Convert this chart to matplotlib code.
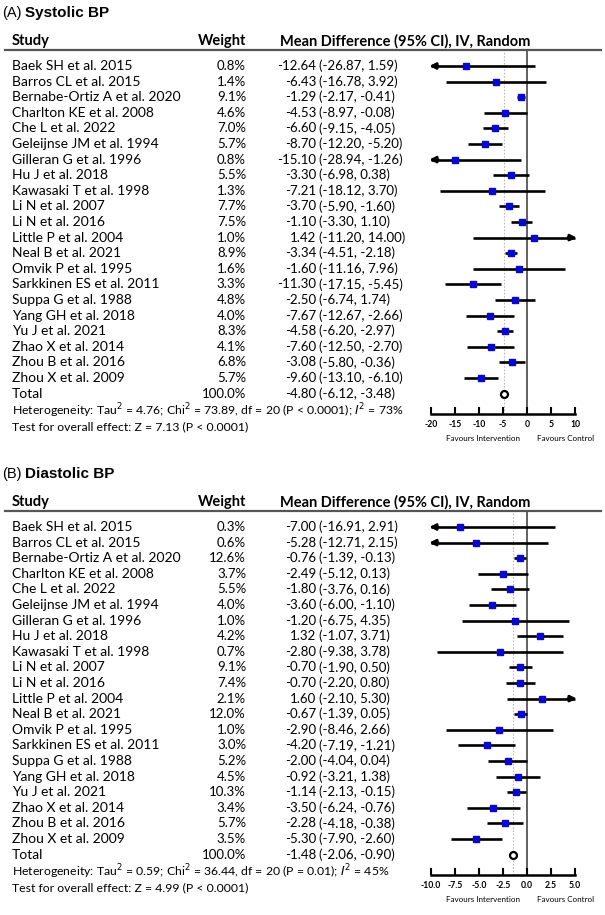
import matplotlib.pyplot as plt
import matplotlib.transforms as mtransforms

plt.rcParams["font.family"] = ["Lato", "DejaVu Sans"]

studies = [
    "Baek SH et al. 2015", "Barros CL et al. 2015", "Bernabe-Ortiz A et al. 2020",
    "Charlton KE et al. 2008", "Che L et al. 2022", "Geleijnse JM et al. 1994",
    "Gilleran G et al. 1996", "Hu J et al. 2018", "Kawasaki T et al. 1998",
    "Li N et al. 2007", "Li N et al. 2016", "Little P et al. 2004",
    "Neal B et al. 2021", "Omvik P et al. 1995", "Sarkkinen ES et al. 2011",
    "Suppa G et al. 1988", "Yang GH et al. 2018", "Yu J et al. 2021",
    "Zhao X et al. 2014", "Zhou B et al. 2016", "Zhou X et al. 2009",
]

# systolic BP
sbp_weight = [0.8, 1.4, 9.1, 4.6, 7.0, 5.7, 0.8, 5.5, 1.3, 7.7, 7.5, 1.0, 8.9, 1.6, 3.3, 4.8, 4.0, 8.3, 4.1, 6.8, 5.7]
sbp_md = [-12.64, -6.43, -1.29, -4.53, -6.60, -8.70, -15.10, -3.30, -7.21, -3.70, -1.10, 1.42,
          -3.34, -1.60, -11.30, -2.50, -7.67, -4.58, -7.60, -3.08, -9.60]
sbp_lo = [-26.87, -16.78, -2.17, -8.97, -9.15, -12.20, -28.94, -6.98, -18.12, -5.90, -3.30, -11.20,
          -4.51, -11.16, -17.15, -6.74, -12.67, -6.20, -12.50, -5.80, -13.10]
sbp_hi = [1.59, 3.92, -0.41, -0.08, -4.05, -5.20, -1.26, 0.38, 3.70, -1.60, 1.10, 14.00,
          -2.18, 7.96, -5.45, 1.74, -2.66, -2.97, -2.70, -0.36, -6.10]
sbp_total = (-4.80, -6.12, -3.48)
sbp_het = r"Heterogeneity: Tau$^2$ = 4.76; Chi$^2$ = 73.89, df = 20 (P < 0.0001); $I^2$ = 73%"
sbp_test = "Test for overall effect: Z = 7.13 (P < 0.0001)"
sbp_ticks = [-20, -15, -10, -5, 0, 5, 10]
sbp_ticklabels = ["-20", "-15", "-10", "-5", "0", "5", "10"]

# diastolic BP
dbp_weight = [0.3, 0.6, 12.6, 3.7, 5.5, 4.0, 1.0, 4.2, 0.7, 9.1, 7.4, 2.1, 12.0, 1.0, 3.0, 5.2, 4.5, 10.3, 3.4, 5.7, 3.5]
dbp_md = [-7.00, -5.28, -0.76, -2.49, -1.80, -3.60, -1.20, 1.32, -2.80, -0.70, -0.70, 1.60,
          -0.67, -2.90, -4.20, -2.00, -0.92, -1.14, -3.50, -2.28, -5.30]
dbp_lo = [-16.91, -12.71, -1.39, -5.12, -3.76, -6.00, -6.75, -1.07, -9.38, -1.90, -2.20, -2.10,
          -1.39, -8.46, -7.19, -4.04, -3.21, -2.13, -6.24, -4.18, -7.90]
dbp_hi = [2.91, 2.15, -0.13, 0.13, 0.16, -1.10, 4.35, 3.71, 3.78, 0.50, 0.80, 5.30,
          0.05, 2.66, -1.21, 0.04, 1.38, -0.15, -0.76, -0.38, -2.60]
dbp_total = (-1.48, -2.06, -0.90)
dbp_het = r"Heterogeneity: Tau$^2$ = 0.59; Chi$^2$ = 36.44, df = 20 (P = 0.01); $I^2$ = 45%"
dbp_test = "Test for overall effect: Z = 4.99 (P < 0.0001)"
dbp_ticks = [-10.0, -7.5, -5.0, -2.5, 0.0, 2.5, 5.0]
dbp_ticklabels = ["-10.0", "-7.5", "-5.0", "-2.5", "0.0", "2.5", "5.0"]

W, H = 605, 915
fig = plt.figure(figsize=(W / 100, H / 100), dpi=100)

BLUE = "#0808D0"
ROW0, ROWSTEP = 66, 15.6


def fx(px):
    return px / W


def fy(px):
    return 1 - px / H


def draw_panel(off, letter, title, weight, md, lo, hi, total, het, test, ticks, ticklabels):
    n = len(md)
    xmin, xmax = ticks[0], ticks[-1]
    ax_top, ax_bot = 50 + off, 414 + off
    ax = fig.add_axes([fx(431), fy(ax_bot), fx(575) - fx(431), (ax_bot - ax_top) / H])
    ax.set_xlim(xmin, xmax)
    ax.set_ylim((ax_bot - off - ROW0) / ROWSTEP, (ax_top - off - ROW0) / ROWSTEP)
    for s in ["top", "left", "right"]:
        ax.spines[s].set_visible(False)
    ax.spines["bottom"].set_linewidth(1.8)
    ax.set_yticks([])
    ax.set_xticks(ticks)
    ax.set_xticklabels(ticklabels, fontsize=6.2, fontweight="bold")
    ax.tick_params(axis="x", direction="in", length=5, width=1.5, pad=4)
    ax.patch.set_visible(False)

    ax.axvline(0, color="#555555", lw=1.3, zorder=1)
    ax.axvline(total[0], color="#bbbbbb", lw=0.8, ls=(0, (1.5, 1.5)), zorder=1)

    span = xmax - xmin
    for i in range(n):
        a, b = lo[i], hi[i]
        a_c, b_c = max(a, xmin), min(b, xmax)
        ax.plot([a_c, b_c], [i, i], color="black", lw=1.9, solid_capstyle="butt", zorder=2, clip_on=False)
        if a < xmin:
            ax.annotate("", xy=(xmin - span * 0.012, i), xytext=(xmin + span * 0.05, i),
                        arrowprops=dict(arrowstyle="-|>", color="black", lw=1.9, mutation_scale=9,
                                        shrinkA=0, shrinkB=0), annotation_clip=False)
        if b > xmax:
            ax.annotate("", xy=(xmax + span * 0.012, i), xytext=(xmax - span * 0.05, i),
                        arrowprops=dict(arrowstyle="-|>", color="black", lw=1.9, mutation_scale=9,
                                        shrinkA=0, shrinkB=0), annotation_clip=False)
        ax.plot(md[i], i, marker="s", ms=4.8, color=BLUE, mec=BLUE, zorder=3, clip_on=False)
    ax.plot(total[0], n, marker="o", ms=5, mfc="white", mec="black", mew=1.6, zorder=3, clip_on=False)

    # text columns share the forest plot's row scale
    tr = mtransforms.blended_transform_factory(fig.transFigure, ax.transData)
    fs_name, fs_num = 10, 9.5
    for i in range(n):
        fig.text(fx(12), i, studies[i], transform=tr, fontsize=fs_name, va="center")
        fig.text(fx(246), i, f"{weight[i]:.1f}%", transform=tr, fontsize=fs_num, va="center", ha="right")
        fig.text(fx(316), i, f"{md[i]:.2f}", transform=tr, fontsize=fs_num, va="center", ha="right")
        fig.text(fx(319), i, f"({lo[i]:.2f}, {hi[i]:.2f})", transform=tr, fontsize=fs_num, va="center")
    fig.text(fx(12), n, "Total", transform=tr, fontsize=fs_name, va="center")
    fig.text(fx(246), n, "100.0%", transform=tr, fontsize=fs_num, va="center", ha="right")
    fig.text(fx(316), n, f"{total[0]:.2f}", transform=tr, fontsize=fs_num, va="center", ha="right")
    fig.text(fx(319), n, f"({total[1]:.2f}, {total[2]:.2f})", transform=tr, fontsize=fs_num, va="center")

    # header
    fs_head = 10.5
    fig.text(fx(12), fy(41 + off), "Study", fontsize=fs_head, fontweight="bold", va="center")
    fig.text(fx(246), fy(41 + off), "Weight", fontsize=fs_head, fontweight="bold", va="center", ha="right")
    fig.text(fx(280), fy(41 + off), "Mean Difference (95% CI), IV, Random", fontsize=fs_head,
             fontweight="bold", va="center")
    fig.add_artist(plt.Line2D([fx(5), fx(601)], [fy(50 + off), fy(50 + off)], color="#555555", lw=1.6))

    # title
    fig.text(fx(2), fy(13 + off), letter, fontsize=10.5, family="Liberation Sans", va="center")
    fig.text(fx(25), fy(13 + off), title, fontsize=11, family="Liberation Sans",
             fontweight="bold", va="center")

    # footer
    fig.text(fx(12), fy(411 + off), het, fontsize=8.8, va="center")
    fig.text(fx(12), fy(427 + off), test, fontsize=8.8, va="center")
    fig.text(fx(483), fy(438 + off), "Favours Intervention", fontsize=5.8, va="center", ha="center")
    fig.text(fx(566), fy(438 + off), "Favours Control", fontsize=5.8, va="center", ha="center")


draw_panel(0, "(A)", "Systolic BP", sbp_weight, sbp_md, sbp_lo, sbp_hi, sbp_total,
           sbp_het, sbp_test, sbp_ticks, sbp_ticklabels)
draw_panel(461, "(B)", "Diastolic BP", dbp_weight, dbp_md, dbp_lo, dbp_hi, dbp_total,
           dbp_het, dbp_test, dbp_ticks, dbp_ticklabels)

fig.savefig("out.png", dpi=100)
